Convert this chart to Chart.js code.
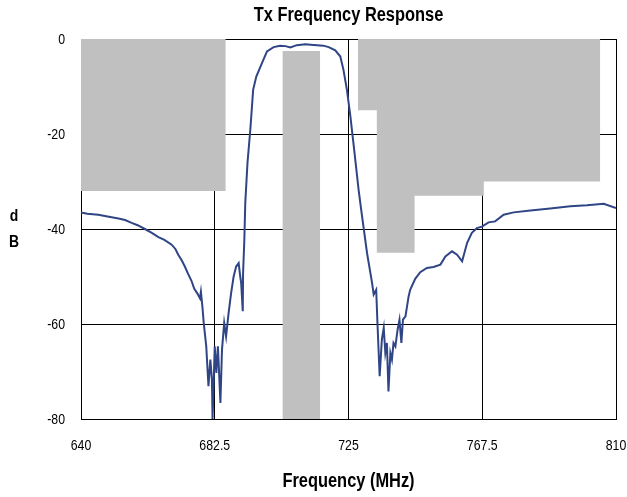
<!doctype html>
<html lang="en">
<head>
  <meta charset="utf-8">
  <title>Tx Frequency Response</title>
  <style type="text/css">
    html, body {
      margin: 0;
      padding: 0;
      background: #ffffff;
    }
    #wrap {
      width: 627px;
      height: 497px;
    }
  </style>
</head>
<body>
  <div id="wrap">
    <canvas id="chart_tx" width="627" height="497"></canvas>
  </div>

  <script src="https://cdn.jsdelivr.net/npm/chart.js"></script>
  <script>
    // measured response, MHz / dB
    const resp_freq = [640.0, 642, 645.5, 648, 651.9, 654, 656.1, 658, 660.3, 662.5, 664.6, 666.5, 668.8, 670, 670.9, 672.0, 673.0, 674.0, 675.1, 676.0, 677.0, 677.8, 678.1, 678.6, 679.0, 679.8, 680.5, 681.1, 681.6, 681.8, 682.5, 683.0, 683.5, 684.3, 684.8, 685.5, 686.1, 686.9, 687.7, 688.5, 689.3, 690.1, 690.6, 690.9, 691.4, 691.5, 691.9, 692.2, 692.9, 693.8, 694.7, 695.7, 697.5, 699.1, 701.2, 703.3, 705, 706.5, 708.6, 711.3, 713, 715.0, 717, 718.7, 720.8, 722.4, 723.4, 724.5, 725.6, 726.8, 728.2, 729.3, 730.9, 732.5, 733.0, 733.8, 734.2, 734.9, 735.6, 736.2, 736.7, 737.2, 737.7, 738.3, 738.8, 739.3, 739.9, 740.6, 741.2, 741.8, 742.3, 743.1, 743.6, 744.1, 744.6, 746.2, 747.8, 749.9, 752.0, 754.2, 755.8, 757.9, 759.5, 761.1, 762.7, 764.2, 765.8, 767.4, 769.5, 771.6, 774.3, 777.5, 782.8, 789.1, 795.5, 800.8, 806.1, 810];
    const resp_db = [-36.5, -36.8, -37.0, -37.3, -37.8, -38.1, -38.7, -39.2, -40.0, -40.8, -41.7, -42.3, -43.3, -44.2, -45.4, -46.6, -47.9, -49.4, -50.9, -52.6, -53.6, -54.6, -53.2, -56.5, -59.8, -64.7, -73.1, -67.5, -71.7, -80, -64.7, -70.3, -64.7, -76.6, -65.4, -59.8, -62.6, -57.7, -53.5, -50, -47.9, -47.2, -50, -51.4, -57.3, -49.3, -42.3, -34.5, -26.1, -19.1, -10.7, -7.9, -5.1, -2.6, -1.7, -1.4, -1.5, -1.8, -1.3, -1.1, -1.2, -1.3, -1.4, -1.7, -2.4, -3.7, -6.5, -10.7, -16.3, -23.3, -31.7, -37.3, -45.1, -51.4, -53.8, -52.8, -59.8, -71.0, -63.3, -60.8, -66.1, -64, -74.2, -66.1, -67.5, -64, -64.7, -61.2, -59.1, -64, -59.1, -58.4, -56.3, -54.2, -52.8, -50.5, -49.1, -48.2, -48, -47.5, -45.8, -44.7, -45.4, -46.8, -42.9, -40.8, -39.8, -39.5, -38.6, -38.4, -37, -36.5, -36.1, -35.7, -35.2, -35, -34.7, -35.6];

    // spec masks (gray), filled up to 0 dB or down to -80 dB
    const mask_low_freq = [640, 686];
    const mask_low_db = [-32, -32];
    const mask_mid_freq = [704, 716];
    const mask_mid_db = [-2.5, -2.5];
    const mask_high_freq = [728, 734, 734, 746, 746, 768, 768, 805];
    const mask_high_db = [-15, -15, -45, -45, -33, -33, -30, -30];

    const x_ticks = [640, 682.5, 725, 767.5, 810];
    const y_ticks = [0, -20, -40, -60, -80];

    const chart_title = 'Tx Frequency Response';
    const x_title = 'Frequency (MHz)';
    const y_title = ['d', 'B'];

    const font_family = "'Liberation Sans', Arial, sans-serif";
    const mask_gray = '#c0c0c0';
    const line_blue = '#2f4586';

    function toPoints(xs, ys) {
      return xs.map(function (x, i) { return { x: x, y: ys[i] }; });
    }

    function maskDataset(xs, ys, fillTo) {
      return {
        data: toPoints(xs, ys),
        borderWidth: 0,
        borderColor: 'rgba(0,0,0,0)',
        backgroundColor: mask_gray,
        pointRadius: 0,
        fill: fillTo
      };
    }

    // the original uses a narrow face; no narrow font here, so squeeze the text
    function putText(ctx, text, x, y, size, bold, align) {
      ctx.save();
      ctx.fillStyle = '#000';
      ctx.font = (bold ? 'bold ' : '') + size + 'px ' + font_family;
      ctx.textAlign = align;
      ctx.textBaseline = 'middle';
      ctx.translate(x, y);
      ctx.scale(0.82, 1);
      ctx.fillText(text, 0, 0);
      ctx.restore();
    }

    const narrowText = {
      id: 'narrowText',
      afterDraw(chart) {
        const ctx = chart.ctx;
        const area = chart.chartArea;
        const xs = chart.scales.x;
        const ys = chart.scales.y;
        const mid = (area.left + area.right) / 2;

        putText(ctx, chart_title, mid, 15, 20, true, 'center');
        putText(ctx, x_title, mid, 481, 20, true, 'center');

        x_ticks.forEach(function (v) {
          putText(ctx, String(v), xs.getPixelForValue(v), 446, 15, false, 'center');
        });
        y_ticks.forEach(function (v) {
          putText(ctx, String(v), 65, ys.getPixelForValue(v) + 1, 15, false, 'right');
        });

        putText(ctx, y_title[0], 14, 216, 17, true, 'center');
        putText(ctx, y_title[1], 14, 242, 17, true, 'center');
      }
    };

    const config_tx = {
      type: 'line',
      data: {
        datasets: [
          {
            data: toPoints(resp_freq, resp_db),
            borderColor: line_blue,
            borderWidth: 2,
            pointRadius: 0,
            fill: false,
            tension: 0
          },
          maskDataset(mask_low_freq, mask_low_db, 'end'),
          maskDataset(mask_mid_freq, mask_mid_db, 'start'),
          maskDataset(mask_high_freq, mask_high_db, 'end')
        ]
      },
      options: {
        responsive: false,
        animation: false,
        events: [],
        layout: {
          padding: { left: 0, right: 11, top: 39, bottom: 0 }
        },
        scales: {
          x: {
            type: 'linear',
            min: 640,
            max: 810,
            z: 1,
            afterBuildTicks: function (scale) {
              scale.ticks = x_ticks.map(function (v) { return { value: v }; });
            },
            afterFit: function (scale) {
              scale.height = 78;
              scale.paddingLeft = 0;
              scale.paddingRight = 0;
            },
            grid: {
              color: '#000',
              lineWidth: 1,
              drawTicks: false
            },
            border: { color: '#000', width: 1 },
            ticks: { display: false }
          },
          y: {
            min: -80,
            max: 0,
            z: 1,
            afterBuildTicks: function (scale) {
              scale.ticks = y_ticks.map(function (v) { return { value: v }; });
            },
            afterFit: function (scale) {
              scale.width = 81;
              scale.paddingTop = 0;
              scale.paddingBottom = 0;
            },
            grid: {
              color: '#000',
              lineWidth: 1,
              drawTicks: false
            },
            border: { color: '#000', width: 1 },
            ticks: { display: false }
          }
        },
        plugins: {
          legend: { display: false },
          tooltip: { enabled: false },
          title: { display: false }
        }
      },
      plugins: [narrowText]
    };

    const chart_tx = new Chart(document.getElementById('chart_tx'), config_tx);
  </script>
</body>
</html>
